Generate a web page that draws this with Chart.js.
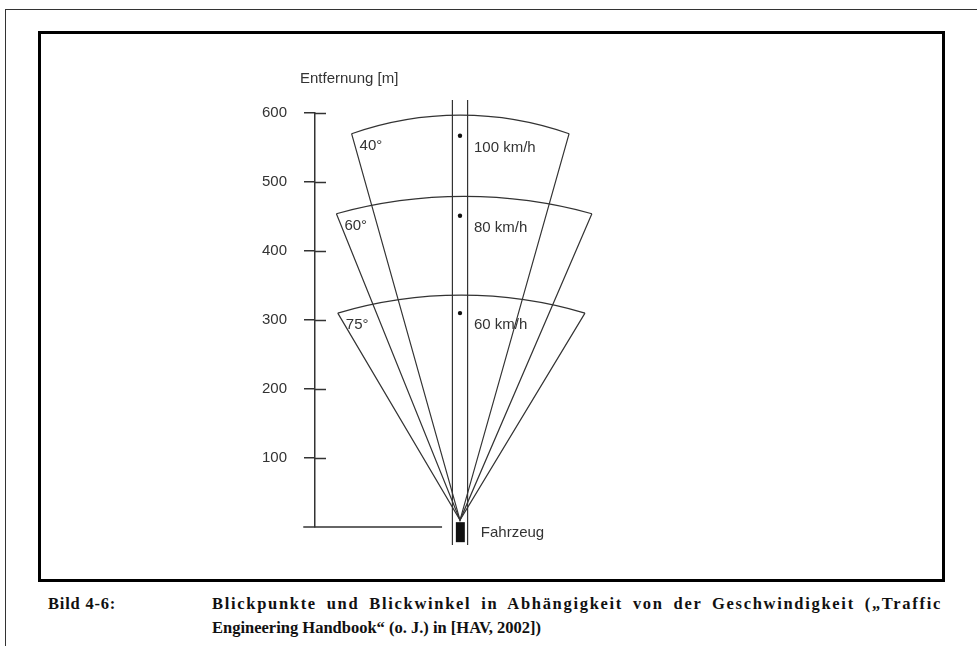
<!DOCTYPE html>
<html>
<head>
<meta charset="utf-8">
<script src="https://cdn.jsdelivr.net/npm/chart.js@4.4.1/dist/chart.umd.min.js"></script>
<style>
    body { margin: 0; background: #fff; }
    #page { position: relative; width: 977px; height: 646px; overflow: hidden; background: #fff; }
    .frame-top { position: absolute; left: 5px; top: 9px; width: 972px; height: 0; border-top: 1.5px solid #333; }
    .frame-left { position: absolute; left: 5px; top: 9px; width: 0; height: 637px; border-left: 1.5px solid #333; }
    .box { position: absolute; left: 38px; top: 31px; width: 907px; height: 551px; border: 3px solid #000; box-sizing: border-box; }
    .cap { position: absolute; font: bold 16.5px "Liberation Serif", "Times New Roman", serif; line-height: 20px; color: #111; white-space: nowrap; }
    .cap-label { left: 48px; top: 594px; letter-spacing: 0.8px; }
    .cap-line1 { left: 212px; top: 594px; width: 730px; letter-spacing: 1.7px; text-align: justify; text-align-last: justify; white-space: normal; }
    .cap-line2 { left: 212px; top: 618px; }
    #wrap { position: absolute; left: 0; top: 0; width: 977px; height: 646px; }
</style>
</head>
<body>
<div id="page">
    <div class="frame-top"></div>
    <div class="frame-left"></div>
    <div class="box"></div>
    <div class="cap cap-label">Bild 4-6:</div>
    <div class="cap cap-line1">Blickpunkte und Blickwinkel in Abhängigkeit von der Geschwindigkeit („Traffic</div>
    <div class="cap cap-line2">Engineering Handbook“ (o. J.) in [HAV, 2002])</div>
    <div id="wrap"><canvas id="chart"></canvas></div>
</div>
<script>
// Entfernungsachse [m]
const yTicks = [100, 200, 300, 400, 500, 600];

// Blickfelder je Geschwindigkeit (Werte in Meter, seitlich / Entfernung)
const speedLabels = ['100 km/h', '80 km/h', '60 km/h'];
const angleLabels = ['40°', '60°', '75°'];
const leftX = [-157, -179, -177];
const rightX = [158, 191, 181];
const edgeY = [570, 454, 310];
const apexY = [597, 479, 336];
const pointY = [567, 451, 310];

// Fahrzeug, Fahrstreifen, Grundlinie
const eyeX = 0;
const eyeY = 10;
const laneX = [-11, 11];
const laneY = [-26, 619];
const baseX = [-227, -26];
const carX = [-6, 7];
const carY = [-22, 7];

const LINE = '#333';
const TEXT = '#333';
const FONT = '15px "Liberation Sans", Arial, sans-serif';

// Kreisbogen durch drei Punkte
function circleFrom(a, b, c) {
    const d = 2 * (a.x * (b.y - c.y) + b.x * (c.y - a.y) + c.x * (a.y - b.y));
    const a2 = a.x * a.x + a.y * a.y;
    const b2 = b.x * b.x + b.y * b.y;
    const c2 = c.x * c.x + c.y * c.y;
    const cx = (a2 * (b.y - c.y) + b2 * (c.y - a.y) + c2 * (a.y - b.y)) / d;
    const cy = (a2 * (c.x - b.x) + b2 * (a.x - c.x) + c2 * (b.x - a.x)) / d;
    return { x: cx, y: cy, r: Math.hypot(a.x - cx, a.y - cy) };
}

const sketchPlugin = {
    id: 'sketch',
    afterDatasetsDraw(chart) {
        const { ctx, chartArea } = chart;
        const xs = chart.scales.x;
        const ys = chart.scales.y;
        ctx.save();

        // innere Hälfte der Achsenstriche
        ctx.strokeStyle = LINE;
        ctx.lineWidth = 1.5;
        yTicks.forEach(v => {
            const py = Math.round(ys.getPixelForValue(v)) + 0.5;
            ctx.beginPath();
            ctx.moveTo(chartArea.left, py);
            ctx.lineTo(chartArea.left + 11, py);
            ctx.stroke();
        });

        // Bögen
        ctx.lineWidth = 1.2;
        speedLabels.forEach((s, i) => {
            const a = { x: xs.getPixelForValue(leftX[i]), y: ys.getPixelForValue(edgeY[i]) };
            const b = { x: xs.getPixelForValue(eyeX), y: ys.getPixelForValue(apexY[i]) };
            const c = { x: xs.getPixelForValue(rightX[i]), y: ys.getPixelForValue(edgeY[i]) };
            const k = circleFrom(a, b, c);
            ctx.beginPath();
            ctx.arc(k.x, k.y, k.r, Math.atan2(a.y - k.y, a.x - k.x), Math.atan2(c.y - k.y, c.x - k.x));
            ctx.stroke();
        });

        // Fahrzeug
        const x0 = xs.getPixelForValue(carX[0]);
        const x1 = xs.getPixelForValue(carX[1]);
        const y0 = ys.getPixelForValue(carY[1]);
        const y1 = ys.getPixelForValue(carY[0]);
        ctx.fillStyle = '#111';
        ctx.fillRect(x0, y0, x1 - x0, y1 - y0);

        // Beschriftung
        ctx.font = FONT;
        ctx.fillStyle = TEXT;
        ctx.textAlign = 'left';
        ctx.textBaseline = 'middle';
        ctx.fillText('Entfernung [m]', chartArea.left - 15, ys.getPixelForValue(600) - 34);
        speedLabels.forEach((s, i) => {
            ctx.fillText(s, xs.getPixelForValue(eyeX) + 14, ys.getPixelForValue(pointY[i]) + 12);
            ctx.fillText(angleLabels[i], xs.getPixelForValue(leftX[i]) + 8, ys.getPixelForValue(edgeY[i]) + 12);
        });
        ctx.fillText('Fahrzeug', x1 + 16, (y0 + y1) / 2 + 1);
        ctx.restore();
    }
};

const lineStyle = {
    showLine: true,
    borderColor: LINE,
    borderWidth: 1.2,
    pointRadius: 0,
    tension: 0,
    clip: false
};

const datasets = [];
speedLabels.forEach((s, i) => {
    datasets.push(Object.assign({
        label: s,
        data: [
            { x: leftX[i], y: edgeY[i] },
            { x: eyeX, y: eyeY },
            { x: rightX[i], y: edgeY[i] }
        ]
    }, lineStyle));
});
laneX.forEach(lx => {
    datasets.push(Object.assign({
        label: 'Fahrstreifen',
        data: [{ x: lx, y: laneY[0] }, { x: lx, y: laneY[1] }]
    }, lineStyle));
});
datasets.push(Object.assign({
    label: 'Grundlinie',
    data: [{ x: baseX[0], y: 0 }, { x: baseX[1], y: 0 }]
}, lineStyle, { borderWidth: 1.5 }));
datasets.push({
    label: 'Blickpunkte',
    data: pointY.map(v => ({ x: eyeX, y: v })),
    showLine: false,
    pointRadius: 2.2,
    pointBackgroundColor: '#111',
    pointBorderWidth: 0,
    clip: false
});

new Chart(document.getElementById('chart'), {
    type: 'scatter',
    data: { datasets },
    options: {
        responsive: true,
        maintainAspectRatio: false,
        animation: false,
        layout: { padding: { left: 255, right: 372, top: 113, bottom: 119 } },
        plugins: { legend: { display: false }, tooltip: { enabled: false } },
        scales: {
            x: { type: 'linear', min: -210, max: 210, display: false },
            y: {
                type: 'linear',
                min: 0,
                max: 600,
                afterFit: s => { s.width = 60; },
                afterBuildTicks: s => { s.ticks = yTicks.map(v => ({ value: v })); },
                border: { display: true, color: LINE, width: 1.5 },
                grid: { display: true, drawOnChartArea: false, drawTicks: true, tickLength: 11, color: LINE, lineWidth: 1.5 },
                ticks: { padding: 17, color: TEXT, font: { family: '"Liberation Sans", Arial, sans-serif', size: 15 } }
            }
        }
    },
    plugins: [sketchPlugin]
});
</script>
</body>
</html>
